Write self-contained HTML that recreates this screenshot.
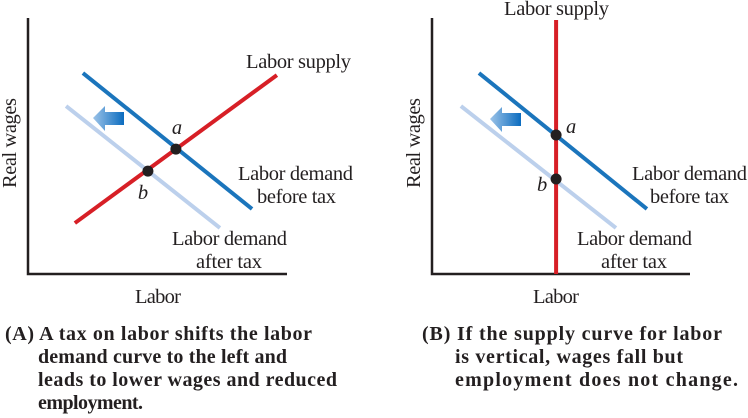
<!DOCTYPE html>
<html><head><meta charset="utf-8"><style>
body{margin:0;background:#fff}
svg{display:block}
text{font-family:"Liberation Serif",serif;fill:#231f20}
.lab{font-size:20.5px}
.cap{font-size:20px;font-weight:bold}
</style></head><body>
<svg id="chart" width="748" height="418" viewBox="0 0 748 418">
<defs>
<linearGradient id="ag" x1="0" x2="1" y1="0" y2="0"><stop offset="0" stop-color="#9cc3e8"/><stop offset="1" stop-color="#0b6cbf"/></linearGradient>
</defs>
<g id="g"></g>
<g>
<text class="lab" x="246" y="68" textLength="105">Labor supply</text>
<text class="lab" x="238" y="180" textLength="115">Labor demand</text>
<text class="lab" x="257" y="203" textLength="79">before tax</text>
<text class="lab" x="172" y="245" textLength="115">Labor demand</text>
<text class="lab" x="196" y="268" textLength="66">after tax</text>
<text class="lab" x="177" y="134" text-anchor="middle" font-style="italic">a</text>
<text class="lab" x="143" y="199" text-anchor="middle" font-style="italic">b</text>
<text class="lab" x="135" y="303" textLength="46">Labor</text>
<text class="lab" transform="translate(16,188) rotate(-90)" textLength="90">Real wages</text>

<text class="lab" x="504" y="15" textLength="105">Labor supply</text>
<text class="lab" x="632" y="180" textLength="115">Labor demand</text>
<text class="lab" x="650" y="203" textLength="79">before tax</text>
<text class="lab" x="577" y="245" textLength="115">Labor demand</text>
<text class="lab" x="601" y="268" textLength="66">after tax</text>
<text class="lab" x="566" y="133" font-style="italic">a</text>
<text class="lab" x="537" y="191" font-style="italic">b</text>
<text class="lab" x="533" y="303" textLength="46">Labor</text>
<text class="lab" transform="translate(420,188) rotate(-90)" textLength="90">Real wages</text>

<g>
<text class="cap" x="5" y="340" textLength="307">(A) A tax on labor shifts the labor</text>
<text class="cap" x="38" y="363" textLength="249">demand curve to the left and</text>
<text class="cap" x="38" y="386" textLength="299">leads to lower wages and reduced</text>
<text class="cap" x="38" y="409" textLength="105">employment.</text>
</g>
<g>
<text class="cap" x="422" y="340" textLength="300">(B) If the supply curve for labor</text>
<text class="cap" x="455" y="363" textLength="228">is vertical, wages fall but</text>
<text class="cap" x="455" y="386" textLength="283">employment does not change.</text>
</g>
</g>
</svg>
<script>
// data coordinates on 0-10 scales
const demandBeforeA = [[2.12,7.85],[8.65,2.54]];
const demandAfterA = [[1.47,6.56],[7.41,1.80]];
const supplyA = [[1.81,1.99],[9.61,7.77]];
const pointsA = [[5.71,4.88],[4.63,4.02]];
const demandBeforeB = [[1.82,7.85],[8.33,2.54]];
const demandAfterB = [[1.12,6.56],[7.13,1.80]];
const supplyB = [[4.81,0],[4.81,9.92]];
const pointsB = [[4.81,5.43],[4.81,3.71]];

const NS='http://www.w3.org/2000/svg';
const g=document.getElementById('g');
function mk(t,a){const e=document.createElementNS(NS,t);for(const k in a)e.setAttribute(k,a[k]);g.appendChild(e);return e;}
function panel(p,x0,x1,db,da,sup,pts,arrow){
  const y0=274,y1=18;
  const sx=v=>x0+(x1-x0)*v/10, sy=v=>y0-(y0-y1)*v/10;
  const ax=mk('path',{d:`M${x0},${y1} V${y0} H${x1}`,fill:'none',stroke:'#231f20','stroke-width':2.5});
  
  
  const L=(d,c,n)=>{const e=mk('line',{x1:sx(d[0][0]),y1:sy(d[0][1]),x2:sx(d[1][0]),y2:sy(d[1][1]),stroke:c,'stroke-width':4});
    
    };
  L(da,'#bcd0ec',p+'-demand-after-tax');
  L(db,'#1b75bc',p+'-demand-before-tax');
  L(sup,'#d71f26',p+'-labor-supply');
  pts.forEach((q,i)=>{const c=mk('circle',{cx:sx(q[0]),cy:sy(q[1]),r:5.5,fill:'#231f20'});
    
    });
  const [ax0,ay0]=arrow;
  const ar=mk('path',{d:`M${ax0},${ay0+12} L${ax0+12},${ay0} V${ay0+6} H${ax0+31} V${ay0+19} H${ax0+12} V${ay0+25} Z`,fill:'url(#ag)'});
  
  
}
panel('panel-a',28,287,demandBeforeA,demandAfterA,supplyA,pointsA,[93,106]);
panel('panel-b',432,690,demandBeforeB,demandAfterB,supplyB,pointsB,[490,107]);
</script>
</body></html>
